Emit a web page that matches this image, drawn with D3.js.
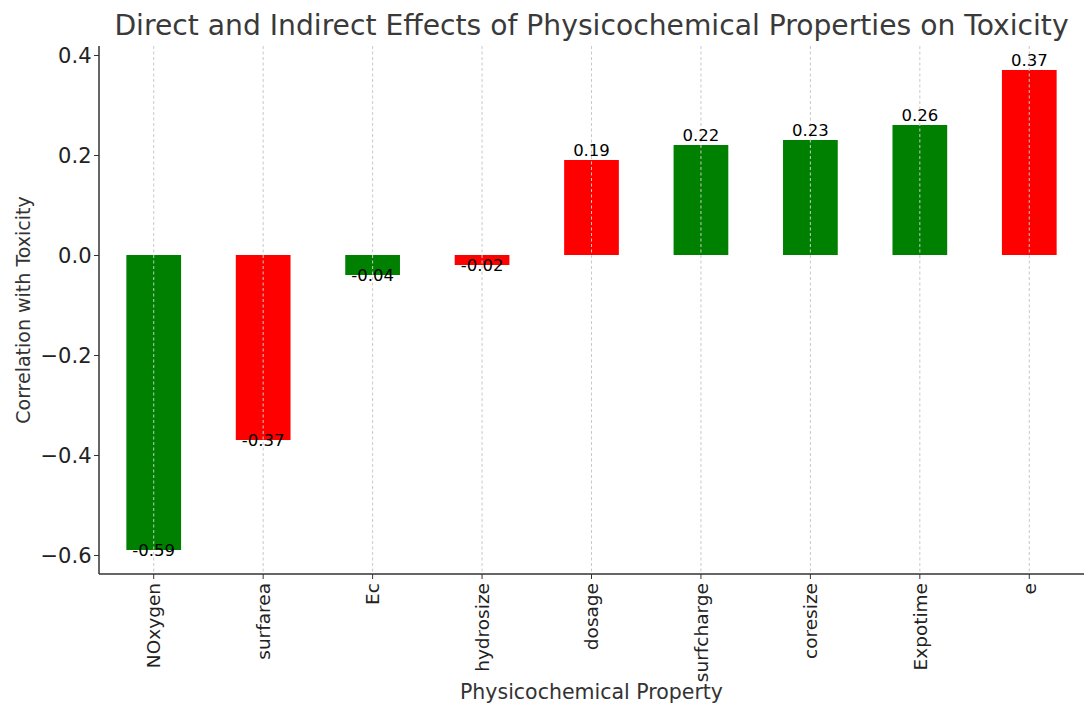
<!DOCTYPE html>
<html>
<head>
<meta charset="utf-8">
<script src="https://cdn.jsdelivr.net/npm/d3@7"></script>
<style>
    body { margin: 0; background: #fff; }
    svg, svg text { font-family: "DejaVu Sans", sans-serif; }
    .axis path, .axis line { stroke: #333; }
    .axis text { fill: #222; }
</style>
</head>
<body>
<svg id="chart" width="1084" height="705"></svg>
<script>
// Chart data
var properties = ["NOxygen", "surfarea", "Ec", "hydrosize", "dosage", "surfcharge", "coresize", "Expotime", "e"];
var correlations = [-0.59, -0.37, -0.04, -0.02, 0.19, 0.22, 0.23, 0.26, 0.37];
var barColors = ["green", "red", "green", "red", "red", "green", "green", "green", "red"];
var yTicks = [-0.6, -0.4, -0.2, 0.0, 0.2, 0.4];

var margin = {top: 46, right: 0, bottom: 131, left: 99};
var svg = d3.select("#chart");
var width = 1084 - margin.left - margin.right;
var height = 705 - margin.top - margin.bottom;

var chart = svg.append("g")
    .attr("transform", `translate(${margin.left}, ${margin.top})`);

var data = properties.map(function(name, i) {
    return {name: name, value: correlations[i], color: barColors[i]};
});

// Scales
var xScale = d3.scaleBand()
    .domain(properties)
    .range([0, width])
    .paddingInner(0.5)
    .paddingOuter(0.25);

var yScale = d3.scaleLinear()
    .domain([-0.638, 0.418])
    .range([height, 0]);

// Bars
chart.selectAll(".bar")
    .data(data)
    .enter()
    .append("rect")
        .attr("class", "bar")
        .attr("x", d => xScale(d.name))
        .attr("width", xScale.bandwidth())
        .attr("y", d => yScale(Math.max(0, d.value)))
        .attr("height", d => Math.abs(yScale(d.value) - yScale(0)))
        .attr("fill", d => d.color);

// Vertical dashed gridlines (drawn over bars)
chart.append("g")
    .attr("class", "grid")
    .selectAll("line")
    .data(properties)
    .enter()
    .append("line")
        .attr("x1", d => xScale(d) + xScale.bandwidth() / 2)
        .attr("x2", d => xScale(d) + xScale.bandwidth() / 2)
        .attr("y1", 0)
        .attr("y2", height)
        .attr("stroke", "#c8c8c8")
        .attr("stroke-width", 1)
        .attr("stroke-dasharray", "3,2.5");

// Value labels
chart.selectAll(".value")
    .data(data)
    .enter()
    .append("text")
        .attr("class", "value")
        .attr("x", d => xScale(d.name) + xScale.bandwidth() / 2)
        .attr("y", d => d.value >= 0 ? yScale(d.value) - 4 : yScale(d.value) + 6)
        .attr("text-anchor", "middle")
        .attr("font-size", "16.5px")
        .attr("fill", "#000")
        .text(d => d.value.toFixed(2));

// Y axis
var formatTick = d3.format(".1f");
chart.append("g")
    .attr("class", "axis")
    .call(d3.axisLeft(yScale)
        .tickValues(yTicks)
        .tickSize(5)
        .tickPadding(2.5)
        .tickFormat(d => formatTick(d).replace("-", "\u2212")))
    .call(g => g.select(".domain").attr("d", `M0,0V${height}`).attr("stroke-width", 1.5))
    .call(g => g.selectAll("text").attr("font-size", "21px").attr("dy", "0.36em"));

// X axis
chart.append("g")
    .attr("class", "axis")
    .attr("transform", `translate(0, ${height})`)
    .call(d3.axisBottom(xScale).tickSize(5).tickPadding(5))
    .call(g => g.select(".domain").attr("d", `M0,0H${width}`).attr("stroke-width", 1.5))
    .call(g => g.selectAll("text")
        .attr("font-size", "18.5px")
        .attr("text-anchor", "end")
        .attr("transform", "rotate(-90)")
        .attr("x", -9)
        .attr("y", 0)
        .attr("dy", "0.36em"));

// Title
svg.append("text")
    .attr("x", margin.left + width / 2)
    .attr("y", 35)
    .attr("text-anchor", "middle")
    .attr("font-size", "28.2px")
    .attr("fill", "#3a3a3a")
    .text("Direct and Indirect Effects of Physicochemical Properties on Toxicity");

// Axis labels
svg.append("text")
    .attr("x", margin.left + width / 2)
    .attr("y", 699)
    .attr("text-anchor", "middle")
    .attr("font-size", "20.5px")
    .attr("fill", "#333")
    .text("Physicochemical Property");

svg.append("text")
    .attr("transform", "rotate(-90)")
    .attr("x", -(margin.top + height / 2))
    .attr("y", 30)
    .attr("text-anchor", "middle")
    .attr("font-size", "19px")
    .attr("fill", "#333")
    .text("Correlation with Toxicity");
</script>
</body>
</html>
